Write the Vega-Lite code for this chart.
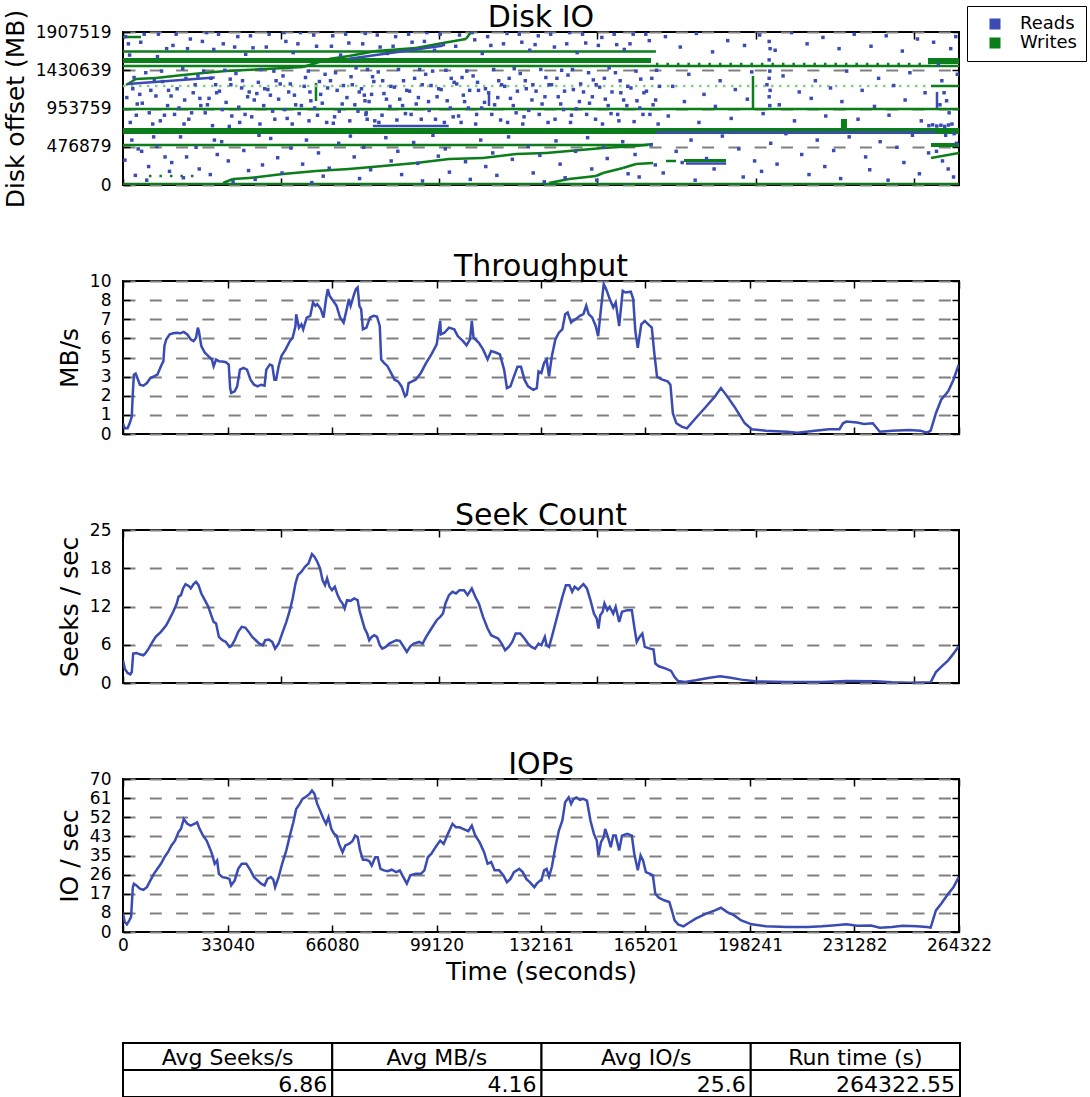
{
"$schema": "https://vega.github.io/schema/vega-lite/v6.json",
"background": "white",
"padding": {"left": 2, "top": 2, "right": 0, "bottom": 0},
"spacing": 96,
"bounds": "flush",
"config": {
  "font": "DejaVu Sans",
  "view": {"stroke": "black", "strokeWidth": 2},
  "axis": {"labelFont": "DejaVu Sans", "labelFontSize": 17, "labelColor": "black", "titleFont": "DejaVu Sans", "titleFontSize": 25, "titleFontWeight": "normal", "titleColor": "black", "domain": false, "tickColor": "black", "tickWidth": 1.5, "tickSize": -7, "grid": false, "labelOverlap": false, "labelFlush": false},
  "title": {"font": "DejaVu Sans", "fontSize": 30, "fontWeight": "normal", "color": "black", "offset": -10, "baseline": "alphabetic"}
},
"datasets": {
"reads": [
{"t":800,"mb":1850000},{"t":2100,"mb":1620000},{"t":3500,"mb":1340000},{"t":1200,"mb":1090000},{"t":4200,"mb":870000},{"t":2800,"mb":560000},{"t":600,"mb":310000},{"t":3900,"mb":120000},
{"t":5600,"mb":1780000},{"t":7200,"mb":1400000},{"t":8800,"mb":1180000},{"t":6100,"mb":1020000},{"t":9400,"mb":760000},{"t":5900,"mb":420000},{"t":8100,"mb":230000},{"t":7500,"mb":60000},
{"t":11200,"mb":1880000},{"t":13800,"mb":1700000},{"t":12500,"mb":1290000},{"t":10400,"mb":1110000},{"t":14100,"mb":990000},{"t":11800,"mb":800000},{"t":13300,"mb":350000},{"t":14700,"mb":170000},
{"t":15800,"mb":1740000},{"t":18900,"mb":1450000},{"t":17100,"mb":1200000},{"t":19500,"mb":1060000},{"t":16300,"mb":880000},{"t":18200,"mb":600000},{"t":15400,"mb":280000},{"t":19100,"mb":90000},
{"t":21300,"mb":1820000},{"t":23700,"mb":1360000},{"t":22200,"mb":1150000},{"t":24600,"mb":990000},{"t":20800,"mb":820000},{"t":23100,"mb":470000},{"t":24100,"mb":200000},
{"t":26400,"mb":1900000},{"t":28700,"mb":1690000},{"t":25500,"mb":1420000},{"t":29300,"mb":1250000},{"t":27200,"mb":1080000},{"t":26000,"mb":900000},{"t":28300,"mb":740000},{"t":29800,"mb":380000},{"t":27600,"mb":130000},
{"t":31700,"mb":1760000},{"t":33900,"mb":1320000},{"t":30500,"mb":1170000},{"t":32600,"mb":1030000},{"t":34400,"mb":860000},{"t":31200,"mb":540000},{"t":33300,"mb":300000},{"t":34800,"mb":40000},
{"t":36300,"mb":1850000},{"t":38800,"mb":1630000},{"t":35700,"mb":1390000},{"t":37500,"mb":1210000},{"t":39400,"mb":1100000},{"t":36900,"mb":780000},{"t":38200,"mb":430000},{"t":39700,"mb":180000},
{"t":41100,"mb":1710000},{"t":43600,"mb":1440000},{"t":42300,"mb":1140000},{"t":44500,"mb":990000},{"t":40700,"mb":850000},{"t":43000,"mb":620000},{"t":44100,"mb":250000},{"t":41800,"mb":70000},
{"t":46200,"mb":1880000},{"t":48400,"mb":1300000},{"t":45800,"mb":1190000},{"t":49200,"mb":1070000},{"t":47300,"mb":920000},{"t":46700,"mb":580000},{"t":48900,"mb":340000},
{"t":51500,"mb":1790000},{"t":53800,"mb":1650000},{"t":50600,"mb":1360000},{"t":52400,"mb":1160000},{"t":54600,"mb":1000000},{"t":51900,"mb":830000},{"t":53100,"mb":460000},{"t":50300,"mb":150000},
{"t":56100,"mb":1900000},{"t":58600,"mb":1420000},{"t":57300,"mb":1230000},{"t":59400,"mb":1050000},{"t":55700,"mb":890000},{"t":58000,"mb":560000},{"t":56800,"mb":260000},{"t":59700,"mb":30000},
{"t":61200,"mb":1730000},{"t":63900,"mb":1380000},{"t":62500,"mb":1130000},{"t":60600,"mb":960000},{"t":64400,"mb":780000},{"t":61800,"mb":400000},{"t":63300,"mb":110000},
{"t":66300,"mb":1860000},{"t":68800,"mb":1620000},{"t":65600,"mb":1300000},{"t":67700,"mb":1180000},{"t":69300,"mb":1010000},{"t":66900,"mb":850000},{"t":68200,"mb":520000},{"t":65200,"mb":210000},
{"t":71400,"mb":1770000},{"t":73700,"mb":1460000},{"t":72500,"mb":1250000},{"t":70800,"mb":1090000},{"t":74300,"mb":920000},{"t":71900,"mb":610000},{"t":73100,"mb":350000},{"t":74800,"mb":80000},
{"t":76600,"mb":1890000},{"t":78900,"mb":1350000},{"t":75400,"mb":1200000},{"t":77800,"mb":1040000},{"t":79600,"mb":800000},{"t":76100,"mb":470000},{"t":78300,"mb":190000},
{"t":81300,"mb":1720000},{"t":83600,"mb":1640000},{"t":80700,"mb":1410000},{"t":82500,"mb":1140000},{"t":84400,"mb":980000},{"t":81900,"mb":870000},{"t":83100,"mb":590000},{"t":84800,"mb":300000},
{"t":86200,"mb":1850000},{"t":88700,"mb":1300000},{"t":85800,"mb":1220000},{"t":87500,"mb":1070000},{"t":89300,"mb":890000},{"t":86900,"mb":420000},{"t":88100,"mb":130000},
{"t":91400,"mb":1780000},{"t":93800,"mb":1440000},{"t":90600,"mb":1170000},{"t":92700,"mb":1010000},{"t":94300,"mb":820000},{"t":91900,"mb":530000},{"t":93200,"mb":270000},{"t":94700,"mb":50000},
{"t":96100,"mb":1900000},{"t":98500,"mb":1680000},{"t":95700,"mb":1380000},{"t":97400,"mb":1240000},{"t":99300,"mb":1100000},{"t":96800,"mb":930000},{"t":98000,"mb":620000},{"t":99700,"mb":360000},
{"t":101300,"mb":1750000},{"t":103800,"mb":1330000},{"t":100600,"mb":1190000},{"t":102500,"mb":1050000},{"t":104400,"mb":850000},{"t":101900,"mb":450000},{"t":103200,"mb":160000},
{"t":106400,"mb":1870000},{"t":108700,"mb":1420000},{"t":105500,"mb":1260000},{"t":107600,"mb":1120000},{"t":109200,"mb":960000},{"t":106900,"mb":780000},{"t":108300,"mb":290000},{"t":109800,"mb":70000},
{"t":111200,"mb":1810000},{"t":113600,"mb":1640000},{"t":110700,"mb":1360000},{"t":112400,"mb":1180000},{"t":114300,"mb":1030000},{"t":111800,"mb":880000},{"t":113100,"mb":560000},{"t":114700,"mb":230000},
{"t":116300,"mb":1740000},{"t":118800,"mb":1300000},{"t":115600,"mb":1150000},{"t":117500,"mb":1000000},{"t":119400,"mb":810000},{"t":116900,"mb":400000},{"t":118200,"mb":120000},
{"t":121400,"mb":1890000},{"t":123700,"mb":1450000},{"t":120700,"mb":1230000},{"t":122500,"mb":1080000},{"t":124300,"mb":900000},{"t":121900,"mb":600000},{"t":123100,"mb":320000},
{"t":126100,"mb":1780000},{"t":128600,"mb":1680000},{"t":125600,"mb":1390000},{"t":127500,"mb":1200000},{"t":129300,"mb":1060000},{"t":126800,"mb":850000},{"t":128100,"mb":480000},{"t":129700,"mb":150000},
{"t":131300,"mb":1860000},{"t":133700,"mb":1340000},{"t":130600,"mb":1170000},{"t":132500,"mb":1010000},{"t":134400,"mb":780000},{"t":131800,"mb":370000},{"t":133200,"mb":40000},
{"t":136400,"mb":1720000},{"t":138700,"mb":1430000},{"t":135500,"mb":1250000},{"t":137600,"mb":1100000},{"t":139300,"mb":940000},{"t":136900,"mb":550000},{"t":138200,"mb":260000},{"t":139800,"mb":90000},
{"t":141200,"mb":1900000},{"t":143600,"mb":1650000},{"t":140700,"mb":1370000},{"t":142400,"mb":1190000},{"t":144300,"mb":1040000},{"t":141800,"mb":870000},{"t":143100,"mb":420000},
{"t":146300,"mb":1770000},{"t":148700,"mb":1310000},{"t":145600,"mb":1160000},{"t":147500,"mb":1020000},{"t":149400,"mb":820000},{"t":146900,"mb":590000},{"t":148200,"mb":200000},{"t":149800,"mb":60000},
{"t":151400,"mb":1840000},{"t":153700,"mb":1460000},{"t":150700,"mb":1220000},{"t":152500,"mb":1070000},{"t":154300,"mb":890000},{"t":151900,"mb":470000},{"t":153100,"mb":330000},
{"t":156100,"mb":1750000},{"t":158500,"mb":1690000},{"t":155700,"mb":1400000},{"t":157400,"mb":1150000},{"t":159300,"mb":990000},{"t":156800,"mb":800000},{"t":158000,"mb":540000},{"t":159700,"mb":140000},
{"t":161300,"mb":1880000},{"t":163700,"mb":1320000},{"t":160600,"mb":1210000},{"t":162500,"mb":1050000},{"t":164400,"mb":880000},{"t":161900,"mb":380000},{"t":163200,"mb":100000},
{"t":166400,"mb":1800000},{"t":168700,"mb":1430000},{"t":165500,"mb":1170000},{"t":167600,"mb":1000000},{"t":169200,"mb":760000},{"t":166900,"mb":500000},{"t":168300,"mb":250000},
{"t":1700,"mb":1760000},{"t":3100,"mb":1200000},{"t":4500,"mb":1010000},{"t":2300,"mb":780000},{"t":4800,"mb":450000},
{"t":6700,"mb":1880000},{"t":9900,"mb":1300000},{"t":5300,"mb":1130000},{"t":8300,"mb":900000},{"t":9700,"mb":600000},
{"t":10900,"mb":1600000},{"t":12200,"mb":1420000},{"t":14400,"mb":1180000},{"t":13100,"mb":870000},{"t":10700,"mb":480000},
{"t":16800,"mb":1880000},{"t":19900,"mb":1330000},{"t":15200,"mb":1110000},{"t":17700,"mb":960000},{"t":19300,"mb":760000},
{"t":20400,"mb":1700000},{"t":22800,"mb":1250000},{"t":24300,"mb":1080000},{"t":21700,"mb":900000},{"t":20100,"mb":350000},
{"t":25100,"mb":1790000},{"t":27800,"mb":1330000},{"t":29600,"mb":1150000},{"t":26700,"mb":1000000},{"t":28900,"mb":560000},
{"t":30200,"mb":1880000},{"t":32200,"mb":1430000},{"t":34100,"mb":1250000},{"t":31400,"mb":940000},{"t":33600,"mb":730000},
{"t":35300,"mb":1720000},{"t":37800,"mb":1300000},{"t":39900,"mb":1160000},{"t":36600,"mb":970000},{"t":38600,"mb":880000},
{"t":40300,"mb":1860000},{"t":42800,"mb":1280000},{"t":44800,"mb":1200000},{"t":41500,"mb":1060000},{"t":43300,"mb":760000},
{"t":45300,"mb":1720000},{"t":47700,"mb":1420000},{"t":49700,"mb":1260000},{"t":46600,"mb":1120000},{"t":48000,"mb":820000},
{"t":50900,"mb":1900000},{"t":52900,"mb":1260000},{"t":54200,"mb":1120000},{"t":51100,"mb":940000},{"t":53500,"mb":760000},
{"t":55300,"mb":1760000},{"t":57700,"mb":1340000},{"t":59100,"mb":1160000},{"t":56400,"mb":990000},{"t":58800,"mb":800000},
{"t":60300,"mb":1870000},{"t":62100,"mb":1290000},{"t":64700,"mb":1210000},{"t":63000,"mb":1020000},{"t":61500,"mb":870000},
{"t":65900,"mb":1730000},{"t":67200,"mb":1400000},{"t":69700,"mb":1240000},{"t":68400,"mb":920000},{"t":66500,"mb":770000},
{"t":70400,"mb":1880000},{"t":72100,"mb":1350000},{"t":74700,"mb":1160000},{"t":73300,"mb":1000000},{"t":71700,"mb":800000},
{"t":75800,"mb":1760000},{"t":77300,"mb":1440000},{"t":79300,"mb":1290000},{"t":78600,"mb":1130000},{"t":76900,"mb":900000},
{"t":80400,"mb":1870000},{"t":82100,"mb":1300000},{"t":84700,"mb":1230000},{"t":83300,"mb":1070000},{"t":80900,"mb":780000},
{"t":85400,"mb":1730000},{"t":87100,"mb":1440000},{"t":89700,"mb":1180000},{"t":88400,"mb":990000},{"t":86600,"mb":810000},
{"t":90300,"mb":1880000},{"t":92200,"mb":1330000},{"t":94600,"mb":1250000},{"t":93400,"mb":1090000},{"t":91100,"mb":880000},
{"t":95300,"mb":1790000},{"t":97900,"mb":1420000},{"t":99800,"mb":1200000},{"t":96600,"mb":1040000},{"t":98800,"mb":820000},
{"t":100300,"mb":1880000},{"t":102100,"mb":1430000},{"t":104700,"mb":1280000},{"t":103500,"mb":960000},{"t":101600,"mb":780000},
{"t":105200,"mb":1730000},{"t":107200,"mb":1340000},{"t":109600,"mb":1180000},{"t":108000,"mb":1040000},{"t":106100,"mb":860000},
{"t":110400,"mb":1900000},{"t":112100,"mb":1280000},{"t":114600,"mb":1200000},{"t":113400,"mb":960000},{"t":111500,"mb":760000},
{"t":115300,"mb":1850000},{"t":117200,"mb":1440000},{"t":119700,"mb":1250000},{"t":118500,"mb":1090000},{"t":116600,"mb":880000},
{"t":120300,"mb":1760000},{"t":122100,"mb":1330000},{"t":124700,"mb":1170000},{"t":123400,"mb":990000},{"t":121600,"mb":780000},
{"t":125300,"mb":1880000},{"t":127200,"mb":1300000},{"t":129600,"mb":1250000},{"t":128300,"mb":930000},{"t":126400,"mb":760000},
{"t":130300,"mb":1750000},{"t":132100,"mb":1440000},{"t":134700,"mb":1250000},{"t":133400,"mb":1100000},{"t":131600,"mb":880000},
{"t":135200,"mb":1880000},{"t":137200,"mb":1330000},{"t":139600,"mb":1170000},{"t":138400,"mb":1010000},{"t":136600,"mb":820000},
{"t":140300,"mb":1760000},{"t":142100,"mb":1440000},{"t":144700,"mb":1260000},{"t":143300,"mb":950000},{"t":141500,"mb":780000},
{"t":145300,"mb":1880000},{"t":147200,"mb":1400000},{"t":149600,"mb":1250000},{"t":148400,"mb":1100000},{"t":146600,"mb":880000},
{"t":150300,"mb":1740000},{"t":152200,"mb":1330000},{"t":154600,"mb":1160000},{"t":153400,"mb":990000},{"t":151600,"mb":760000},
{"t":155300,"mb":1880000},{"t":157200,"mb":1300000},{"t":159600,"mb":1230000},{"t":158300,"mb":1060000},{"t":156400,"mb":880000},
{"t":160300,"mb":1760000},{"t":162200,"mb":1420000},{"t":164700,"mb":1150000},{"t":163400,"mb":960000},{"t":161600,"mb":790000},
{"t":165300,"mb":1880000},{"t":167200,"mb":1330000},{"t":169600,"mb":1230000},{"t":168400,"mb":1060000},{"t":166600,"mb":880000},
{"t":171500,"mb":1850000},{"t":173800,"mb":1230000},{"t":172400,"mb":860000},{"t":174900,"mb":420000},{"t":170800,"mb":150000},
{"t":176200,"mb":1720000},{"t":178900,"mb":1380000},{"t":177500,"mb":1040000},{"t":179600,"mb":560000},{"t":176800,"mb":280000},
{"t":181300,"mb":1890000},{"t":183700,"mb":1130000},{"t":182100,"mb":780000},{"t":184500,"mb":330000},{"t":180900,"mb":60000},
{"t":186400,"mb":1660000},{"t":188800,"mb":1300000},{"t":187300,"mb":980000},{"t":189500,"mb":610000},{"t":186900,"mb":200000},
{"t":191200,"mb":1800000},{"t":193600,"mb":1190000},{"t":192300,"mb":830000},{"t":194700,"mb":450000},
{"t":196500,"mb":1740000},{"t":198800,"mb":1410000},{"t":197400,"mb":1070000},{"t":199700,"mb":300000},{"t":196100,"mb":100000},
{"t":201300,"mb":1870000},{"t":203600,"mb":1250000},{"t":202400,"mb":890000},{"t":204800,"mb":520000},{"t":201900,"mb":170000},
{"t":204300,"mb":1790000},{"t":204600,"mb":1700000},{"t":204300,"mb":1560000},{"t":204500,"mb":1420000},{"t":204300,"mb":1330000},{"t":204600,"mb":1180000},{"t":204300,"mb":1100000},{"t":204500,"mb":990000},
{"t":206200,"mb":1680000},{"t":208700,"mb":1360000},{"t":207500,"mb":1000000},{"t":209600,"mb":640000},{"t":206800,"mb":260000},
{"t":211400,"mb":1900000},{"t":213800,"mb":1160000},{"t":212300,"mb":800000},{"t":214600,"mb":380000},
{"t":216300,"mb":1760000},{"t":218900,"mb":1300000},{"t":217600,"mb":1080000},{"t":219500,"mb":560000},{"t":216900,"mb":130000},
{"t":221300,"mb":1840000},{"t":223700,"mb":1210000},{"t":222200,"mb":860000},{"t":224700,"mb":430000},{"t":221900,"mb":230000},
{"t":226400,"mb":1700000},{"t":228800,"mb":1420000},{"t":227300,"mb":1040000},{"t":229600,"mb":600000},{"t":226900,"mb":80000},
{"t":231200,"mb":1880000},{"t":233700,"mb":1180000},{"t":232400,"mb":820000},{"t":234800,"mb":350000},
{"t":236500,"mb":1730000},{"t":238900,"mb":1330000},{"t":237600,"mb":980000},{"t":239400,"mb":540000},{"t":236100,"mb":190000},
{"t":241300,"mb":1860000},{"t":243700,"mb":1240000},{"t":242200,"mb":870000},{"t":244700,"mb":470000},{"t":241900,"mb":60000},
{"t":246400,"mb":1670000},{"t":248800,"mb":1400000},{"t":247300,"mb":1060000},{"t":249600,"mb":620000},{"t":246900,"mb":280000},
{"t":251200,"mb":1820000},{"t":253600,"mb":1150000},{"t":252400,"mb":800000},{"t":254700,"mb":400000},{"t":251800,"mb":140000},
{"t":256300,"mb":1780000},{"t":257800,"mb":1500000},{"t":258900,"mb":1300000},{"t":259600,"mb":1150000},{"t":260400,"mb":1050000},{"t":261200,"mb":900000},{"t":262100,"mb":760000},{"t":262800,"mb":640000},{"t":263500,"mb":520000},{"t":257200,"mb":420000},{"t":259100,"mb":300000},{"t":260900,"mb":200000},{"t":262600,"mb":100000},{"t":261700,"mb":1700000},{"t":263300,"mb":1850000},{"t":258300,"mb":1000000},{"t":260100,"mb":620000},{"t":263800,"mb":1380000},
{"t":254800,"mb":740000},{"t":256000,"mb":750000},{"t":257300,"mb":735000},{"t":258600,"mb":745000},{"t":259800,"mb":730000},{"t":261000,"mb":748000},
{"t":76500,"mb":1050000},{"t":76800,"mb":880000},{"t":77200,"mb":820000},{"t":76300,"mb":1120000}
],
"wlines": [
{"t0":0,"mb0":1664000,"t1":168500,"mb1":1664000},
{"t0":0,"mb0":1483600,"t1":264322,"mb1":1483600},
{"t0":0,"mb0":947500,"t1":264322,"mb1":947500},
{"t0":0,"mb0":498700,"t1":166000,"mb1":498700},
{"t0":0,"mb0":12000,"t1":264322,"mb1":12000},
{"t0":0,"mb0":1845000,"t1":5700,"mb1":1845000},
{"t0":949,"mb0":1246700,"t1":4110,"mb1":1321500},
{"t0":4110,"mb0":1321500,"t1":10434,"mb1":1334000},
{"t0":10434,"mb0":1334000,"t1":18970,"mb1":1371400},
{"t0":18970,"mb0":1371400,"t1":25294,"mb1":1396300},
{"t0":25294,"mb0":1396300,"t1":32566,"mb1":1421200},
{"t0":32566,"mb0":1421200,"t1":45212,"mb1":1446200},
{"t0":45212,"mb0":1446200,"t1":56911,"mb1":1471100},
{"t0":56911,"mb0":1471100,"t1":65131,"mb1":1570800},
{"t0":65131,"mb0":1570800,"t1":71454,"mb1":1608200},
{"t0":71454,"mb0":1608200,"t1":79991,"mb1":1670600},
{"t0":79991,"mb0":1670600,"t1":92638,"mb1":1708000},
{"t0":92638,"mb0":1708000,"t1":101174,"mb1":1770300},
{"t0":101174,"mb0":1770300,"t1":108446,"mb1":1820200},
{"t0":108446,"mb0":1820200,"t1":110027,"mb1":1907500},
{"t0":31617,"mb0":24900,"t1":34779,"mb1":74800},
{"t0":34779,"mb0":74800,"t1":39837,"mb1":87300},
{"t0":39837,"mb0":87300,"t1":50587,"mb1":137100},
{"t0":50587,"mb0":137100,"t1":61021,"mb1":174500},
{"t0":61021,"mb0":174500,"t1":71454,"mb1":199500},
{"t0":71454,"mb0":199500,"t1":82204,"mb1":236900},
{"t0":82204,"mb0":236900,"t1":92638,"mb1":274300},
{"t0":92638,"mb0":274300,"t1":103071,"mb1":324100},
{"t0":103071,"mb0":324100,"t1":113821,"mb1":336600},
{"t0":113821,"mb0":336600,"t1":124255,"mb1":386500},
{"t0":124255,"mb0":386500,"t1":133740,"mb1":398900},
{"t0":133740,"mb0":398900,"t1":141012,"mb1":423900},
{"t0":141012,"mb0":423900,"t1":151762,"mb1":461300},
{"t0":151762,"mb0":461300,"t1":162195,"mb1":486200},
{"t0":162195,"mb0":486200,"t1":167570,"mb1":511100},
{"t0":134689,"mb0":24900,"t1":141012,"mb1":74800},
{"t0":141012,"mb0":74800,"t1":149548,"mb1":112200},
{"t0":149548,"mb0":112200,"t1":151762,"mb1":149600},
{"t0":151762,"mb0":149600,"t1":158085,"mb1":211900},
{"t0":158085,"mb0":211900,"t1":162195,"mb1":261800},
{"t0":162195,"mb0":261800,"t1":167570,"mb1":274300},
{"t0":255465,"mb0":336600,"t1":264322,"mb1":398900},
{"t0":255465,"mb0":1234300,"t1":264322,"mb1":1234300},
{"t0":199187,"mb0":947500,"t1":199187,"mb1":1358900},
{"t0":61021,"mb0":1047200,"t1":61021,"mb1":1271600},
{"t0":171680,"mb0":299200,"t1":174840,"mb1":299200}
],
"wbands": [
{"t0":0,"t1":166940,"lo":1521000,"hi":1583300},
{"t0":0,"t1":264322,"lo":635800,"hi":710600},
{"t0":177371,"t1":190650,"lo":286700,"hi":324100},
{"t0":254500,"t1":264322,"lo":1508500,"hi":1583300},
{"t0":255465,"t1":264322,"lo":473700,"hi":523600},
{"t0":227000,"t1":228900,"lo":673200,"hi":822800}
],
"wdots": [
{"t0":0,"t1":255000,"mb":1234300,"shade":"light"},
{"t0":168500,"t1":255000,"mb":1508000,"shade":"dark"},
{"t0":8200,"t1":24000,"mb":112200,"shade":"dark"}
],
"rlines": [
{"t0":1500,"mb0":1260000,"t1":29000,"mb1":1340000},
{"t0":71500,"mb0":1575000,"t1":101000,"mb1":1735000},
{"t0":79000,"mb0":735500,"t1":103000,"mb1":735500},
{"t0":168500,"mb0":654000,"t1":257000,"mb1":654000},
{"t0":178000,"mb0":268000,"t1":190700,"mb1":268000},
{"t0":115718,"mb0":985000,"t1":115718,"mb1":1147000},
{"t0":257362,"mb0":960000,"t1":257362,"mb1":1160000}
],
"tp": [
{"t":0,"v":0.70},{"t":555,"v":0.37},{"t":1444,"v":0.37},{"t":2110,"v":0.70},{"t":2777,"v":1.14},{"t":3110,"v":2.68},{"t":3443,"v":3.88},{"t":3998,"v":3.95},{"t":4553,"v":3.66},{"t":5331,"v":3.22},{"t":6441,"v":3.16},{"t":7552,"v":3.33},{"t":8663,"v":3.66},{"t":9773,"v":3.77},{"t":10884,"v":3.88},{"t":11994,"v":4.43},{"t":12772,"v":4.76},{"t":13105,"v":5.75},{"t":13660,"v":6.18},{"t":14771,"v":6.51},{"t":15882,"v":6.58},{"t":16992,"v":6.62},{"t":18103,"v":6.58},{"t":19213,"v":6.67},{"t":20324,"v":6.51},{"t":21435,"v":6.18},{"t":22323,"v":6.07},{"t":23100,"v":6.29},{"t":23656,"v":6.95},{"t":23989,"v":6.73},{"t":24766,"v":5.75},{"t":25877,"v":5.31},{"t":26988,"v":5.09},{"t":28098,"v":4.87},{"t":28654,"v":4.43},{"t":29431,"v":4.87},{"t":30319,"v":4.76},{"t":31430,"v":4.74},{"t":32541,"v":4.69},{"t":33429,"v":4.54},{"t":33873,"v":3.00},{"t":34206,"v":2.68},{"t":35317,"v":2.79},{"t":36095,"v":3.11},{"t":36983,"v":4.21},{"t":38094,"v":4.32},{"t":39204,"v":4.21},{"t":40315,"v":3.55},{"t":41425,"v":3.22},{"t":42536,"v":3.11},{"t":43647,"v":3.22},{"t":44757,"v":3.16},{"t":45313,"v":4.21},{"t":46423,"v":4.54},{"t":47201,"v":4.47},{"t":47867,"v":3.55},{"t":48422,"v":3.55},{"t":49200,"v":4.43},{"t":50088,"v":5.09},{"t":51421,"v":5.53},{"t":52754,"v":6.07},{"t":53642,"v":6.29},{"t":54530,"v":7.06},{"t":54753,"v":7.83},{"t":55641,"v":6.95},{"t":56418,"v":7.17},{"t":56974,"v":6.84},{"t":58084,"v":7.61},{"t":59195,"v":7.72},{"t":60083,"v":8.60},{"t":60861,"v":8.38},{"t":61416,"v":8.49},{"t":62527,"v":8.16},{"t":63415,"v":7.61},{"t":64193,"v":8.82},{"t":64748,"v":9.47},{"t":65303,"v":9.04},{"t":66414,"v":8.71},{"t":67524,"v":8.38},{"t":68635,"v":7.61},{"t":69746,"v":7.28},{"t":70856,"v":8.27},{"t":71412,"v":8.82},{"t":71967,"v":8.38},{"t":73077,"v":9.14},{"t":73633,"v":9.47},{"t":74188,"v":9.58},{"t":74743,"v":8.38},{"t":75299,"v":8.16},{"t":75854,"v":6.84},{"t":76965,"v":6.95},{"t":78075,"v":7.61},{"t":79186,"v":7.72},{"t":80296,"v":7.68},{"t":81185,"v":7.06},{"t":81629,"v":4.87},{"t":82518,"v":4.65},{"t":83628,"v":4.43},{"t":84739,"v":3.99},{"t":85849,"v":3.55},{"t":86960,"v":3.44},{"t":88071,"v":3.11},{"t":89181,"v":2.46},{"t":89736,"v":2.57},{"t":90292,"v":3.33},{"t":91402,"v":3.44},{"t":92513,"v":3.55},{"t":94179,"v":3.99},{"t":95845,"v":4.65},{"t":97511,"v":5.20},{"t":99177,"v":5.86},{"t":100287,"v":7.39},{"t":100510,"v":6.51},{"t":101620,"v":6.62},{"t":103064,"v":6.95},{"t":104730,"v":6.84},{"t":105840,"v":6.40},{"t":107506,"v":6.07},{"t":108617,"v":5.79},{"t":109727,"v":6.18},{"t":110283,"v":7.39},{"t":110838,"v":6.29},{"t":112504,"v":5.96},{"t":113837,"v":5.53},{"t":115281,"v":4.87},{"t":116391,"v":5.42},{"t":118057,"v":5.31},{"t":119167,"v":5.20},{"t":120500,"v":4.21},{"t":121389,"v":3.00},{"t":122499,"v":3.11},{"t":123610,"v":3.77},{"t":124720,"v":4.39},{"t":125831,"v":4.39},{"t":126942,"v":3.55},{"t":128052,"v":3.11},{"t":129718,"v":2.89},{"t":130829,"v":3.00},{"t":131384,"v":4.10},
{"t":132264,"v":3.99},{"t":133151,"v":4.65},{"t":133928,"v":4.87},{"t":134704,"v":3.77},{"t":135591,"v":5.09},{"t":136700,"v":6.18},{"t":137809,"v":6.62},{"t":138918,"v":6.84},{"t":139805,"v":7.83},{"t":140582,"v":7.94},{"t":141691,"v":7.28},{"t":142245,"v":7.39},{"t":143354,"v":7.54},{"t":144463,"v":7.72},{"t":145572,"v":7.83},{"t":146459,"v":8.38},{"t":147236,"v":7.83},{"t":148345,"v":7.61},{"t":149454,"v":7.06},{"t":150230,"v":6.40},{"t":151117,"v":8.16},{"t":152004,"v":9.80},{"t":152781,"v":9.47},{"t":153890,"v":8.82},{"t":154999,"v":8.27},{"t":155775,"v":8.60},{"t":156884,"v":7.06},{"t":157993,"v":9.36},{"t":158880,"v":9.25},{"t":160544,"v":9.30},{"t":161320,"v":8.82},{"t":161985,"v":6.73},{"t":162762,"v":5.64},{"t":163871,"v":7.17},{"t":164980,"v":7.39},{"t":166089,"v":7.17},{"t":167198,"v":6.95},{"t":167974,"v":5.31},{"t":168861,"v":3.73},{"t":170525,"v":3.55},{"t":172188,"v":3.44},{"t":173075,"v":3.22},{"t":173852,"v":1.36},{"t":174961,"v":0.70},{"t":176624,"v":0.48},{"t":178288,"v":0.37},{"t":181060,"v":1.03},{"t":184387,"v":1.80},{"t":187160,"v":2.46},{"t":189045,"v":3.00},{"t":191041,"v":2.46},{"t":193259,"v":1.80},{"t":194923,"v":1.25},{"t":196586,"v":0.70},{"t":198804,"v":0.31},{"t":203240,"v":0.22},{"t":209894,"v":0.15},{"t":213221,"v":0.09},{"t":218766,"v":0.22},{"t":223202,"v":0.31},{"t":226529,"v":0.31},{"t":227638,"v":0.70},{"t":228747,"v":0.81},{"t":232074,"v":0.75},{"t":234292,"v":0.66},{"t":237065,"v":0.70},{"t":239283,"v":0.15},{"t":243164,"v":0.22},{"t":248709,"v":0.26},{"t":252036,"v":0.22},{"t":254254,"v":0.09},{"t":255363,"v":0.22},{"t":257027,"v":1.36},{"t":258690,"v":2.24},{"t":260908,"v":2.79},{"t":262572,"v":3.55},{"t":264235,"v":4.54}
],
"sk": [
{"t":0,"v":3.71},{"t":555,"v":2.35},{"t":1444,"v":1.64},{"t":2332,"v":1.42},{"t":2777,"v":1.80},{"t":3221,"v":4.80},{"t":4220,"v":4.91},{"t":5331,"v":4.69},{"t":6441,"v":4.53},{"t":6996,"v":4.80},{"t":8108,"v":5.62},{"t":8996,"v":6.44},{"t":10329,"v":7.53},{"t":11994,"v":8.35},{"t":13660,"v":9.44},{"t":14771,"v":10.53},{"t":15882,"v":11.63},{"t":16992,"v":12.99},{"t":17547,"v":14.08},{"t":18325,"v":14.36},{"t":18991,"v":15.45},{"t":19768,"v":16.16},{"t":20879,"v":15.83},{"t":21435,"v":15.45},{"t":22323,"v":16.16},{"t":23100,"v":16.54},{"t":23878,"v":15.99},{"t":24766,"v":14.63},{"t":25877,"v":13.54},{"t":26988,"v":12.45},{"t":27876,"v":11.08},{"t":28654,"v":9.99},{"t":29431,"v":9.72},{"t":30319,"v":7.53},{"t":31430,"v":6.99},{"t":32541,"v":6.71},{"t":33651,"v":5.90},{"t":34206,"v":6.00},{"t":35317,"v":6.99},{"t":36428,"v":8.35},{"t":37538,"v":9.17},{"t":38649,"v":9.06},{"t":39760,"v":8.35},{"t":40870,"v":7.53},{"t":41981,"v":6.99},{"t":43092,"v":6.44},{"t":44202,"v":6.17},{"t":44980,"v":6.99},{"t":46090,"v":7.10},{"t":47201,"v":6.71},{"t":48089,"v":5.62},{"t":49200,"v":6.44},{"t":50310,"v":8.08},{"t":51643,"v":9.99},{"t":52754,"v":11.90},{"t":53642,"v":13.81},{"t":54530,"v":16.27},{"t":55307,"v":17.63},{"t":56418,"v":18.18},{"t":57529,"v":19.00},{"t":58639,"v":19.54},{"t":59750,"v":21.07},{"t":60528,"v":20.63},{"t":61416,"v":19.81},{"t":62305,"v":18.72},{"t":63082,"v":16.81},{"t":63860,"v":15.99},{"t":64526,"v":17.09},{"t":65303,"v":15.72},{"t":66080,"v":15.17},{"t":66969,"v":15.72},{"t":67858,"v":14.36},{"t":68635,"v":13.54},{"t":69413,"v":12.99},{"t":70079,"v":12.17},{"t":70856,"v":13.54},{"t":71967,"v":13.43},{"t":73077,"v":13.81},{"t":74188,"v":13.54},{"t":74743,"v":11.90},{"t":75632,"v":10.26},{"t":76410,"v":8.90},{"t":77187,"v":8.08},{"t":77854,"v":6.99},{"t":78631,"v":7.53},{"t":79409,"v":7.81},{"t":80296,"v":7.53},{"t":81185,"v":6.17},{"t":81962,"v":5.62},{"t":83073,"v":5.90},{"t":84183,"v":6.44},{"t":85294,"v":6.71},{"t":86405,"v":6.99},{"t":87515,"v":6.88},{"t":88626,"v":6.00},{"t":89736,"v":5.08},{"t":90847,"v":6.00},{"t":91958,"v":6.44},{"t":93624,"v":6.71},{"t":94734,"v":6.44},{"t":95845,"v":7.53},{"t":97511,"v":8.90},{"t":99177,"v":10.26},{"t":100287,"v":10.81},{"t":101176,"v":11.35},{"t":101953,"v":12.99},{"t":103064,"v":14.36},{"t":104175,"v":14.90},{"t":105285,"v":14.63},{"t":106396,"v":15.17},{"t":107840,"v":15.17},{"t":108950,"v":14.36},{"t":110283,"v":15.45},{"t":111393,"v":14.08},{"t":112504,"v":12.99},{"t":113837,"v":10.81},{"t":115281,"v":8.90},{"t":116391,"v":7.81},{"t":117502,"v":7.53},{"t":118613,"v":7.26},{"t":119723,"v":6.44},{"t":120834,"v":5.35},{"t":121944,"v":5.90},{"t":123055,"v":6.71},{"t":124165,"v":8.08},{"t":125609,"v":8.08},{"t":126942,"v":7.26},{"t":128052,"v":6.44},{"t":129163,"v":5.90},{"t":130273,"v":5.62},{"t":131384,"v":6.44},
{"t":132264,"v":6.17},{"t":133373,"v":7.53},{"t":133928,"v":6.17},{"t":134704,"v":5.90},{"t":135591,"v":7.53},{"t":136700,"v":9.72},{"t":137809,"v":11.90},{"t":138918,"v":14.08},{"t":140027,"v":15.99},{"t":141136,"v":15.99},{"t":142023,"v":14.90},{"t":142800,"v":15.72},{"t":143909,"v":15.28},{"t":144690,"v":15.72},{"t":145572,"v":16.16},{"t":146681,"v":15.45},{"t":147790,"v":13.54},{"t":148899,"v":11.35},{"t":149786,"v":10.53},{"t":150341,"v":8.90},{"t":150895,"v":11.08},{"t":151670,"v":11.63},{"t":152226,"v":12.99},{"t":153114,"v":11.90},{"t":153890,"v":12.45},{"t":154999,"v":11.35},{"t":155775,"v":12.45},{"t":156884,"v":9.99},{"t":157771,"v":11.63},{"t":159435,"v":11.90},{"t":160876,"v":11.90},{"t":161652,"v":9.17},{"t":162428,"v":6.71},{"t":163316,"v":7.53},{"t":164203,"v":8.08},{"t":164980,"v":5.90},{"t":166643,"v":5.62},{"t":167752,"v":5.46},{"t":168306,"v":3.17},{"t":169415,"v":2.73},{"t":171633,"v":2.35},{"t":173297,"v":1.97},{"t":174406,"v":0.98},{"t":175515,"v":0.33},{"t":177733,"v":0.16},{"t":181060,"v":0.44},{"t":185496,"v":0.87},{"t":188823,"v":1.09},{"t":192150,"v":0.87},{"t":195477,"v":0.55},{"t":199913,"v":0.27},{"t":209894,"v":0.16},{"t":220984,"v":0.16},{"t":228747,"v":0.33},{"t":237619,"v":0.27},{"t":243164,"v":0.11},{"t":248709,"v":0.05},{"t":255363,"v":0.11},{"t":257027,"v":1.80},{"t":258690,"v":2.62},{"t":260908,"v":3.71},{"t":262572,"v":4.80},{"t":264235,"v":6.00}
],
"io": [
{"t":0,"v":8.37},{"t":555,"v":4.57},{"t":1222,"v":3.50},{"t":2000,"v":5.33},{"t":2555,"v":6.85},{"t":3110,"v":20.5},{"t":3443,"v":22.1},{"t":4220,"v":21.3},{"t":5331,"v":19.8},{"t":6441,"v":19.3},{"t":7552,"v":20.5},{"t":8663,"v":23.6},{"t":9773,"v":26.6},{"t":10884,"v":28.9},{"t":11994,"v":31.2},{"t":13105,"v":34.2},{"t":14216,"v":36.5},{"t":15326,"v":39.6},{"t":16437,"v":41.8},{"t":17547,"v":45.7},{"t":18325,"v":47.2},{"t":19213,"v":51.7},{"t":20324,"v":49.5},{"t":21435,"v":48.7},{"t":22545,"v":49.5},{"t":23434,"v":50.2},{"t":24211,"v":47.2},{"t":25322,"v":44.1},{"t":26433,"v":41.8},{"t":27543,"v":38.0},{"t":28098,"v":35.8},{"t":28987,"v":31.2},{"t":29764,"v":32.7},{"t":30319,"v":26.6},{"t":31430,"v":25.1},{"t":32541,"v":24.8},{"t":33651,"v":24.3},{"t":34206,"v":21.3},{"t":35317,"v":23.6},{"t":36428,"v":28.9},{"t":37538,"v":31.2},{"t":38982,"v":31.2},{"t":40315,"v":28.2},{"t":41425,"v":25.1},{"t":42536,"v":23.6},{"t":43647,"v":22.1},{"t":44757,"v":21.3},{"t":45646,"v":24.3},{"t":46756,"v":25.1},{"t":47534,"v":23.9},{"t":48089,"v":20.5},{"t":49200,"v":25.1},{"t":50310,"v":31.2},{"t":51643,"v":37.3},{"t":52754,"v":44.1},{"t":53864,"v":50.2},{"t":54753,"v":56.3},{"t":55863,"v":58.6},{"t":56752,"v":60.9},{"t":57862,"v":61.9},{"t":58973,"v":63.2},{"t":59750,"v":64.7},{"t":60528,"v":63.2},{"t":61416,"v":58.6},{"t":62527,"v":54.8},{"t":63415,"v":51.7},{"t":64193,"v":49.5},{"t":64970,"v":52.5},{"t":65859,"v":47.2},{"t":66747,"v":44.9},{"t":67524,"v":44.1},{"t":68302,"v":40.3},{"t":69413,"v":36.5},{"t":70301,"v":39.6},{"t":71412,"v":40.3},{"t":72522,"v":41.5},{"t":73411,"v":44.1},{"t":74188,"v":43.4},{"t":74966,"v":37.3},{"t":75854,"v":33.0},{"t":76965,"v":33.0},{"t":77854,"v":32.4},{"t":78631,"v":30.4},{"t":79742,"v":34.2},{"t":80519,"v":34.2},{"t":81407,"v":28.9},{"t":82518,"v":28.2},{"t":83628,"v":27.8},{"t":84961,"v":28.5},{"t":86405,"v":27.4},{"t":87515,"v":28.2},{"t":88626,"v":25.1},{"t":89736,"v":22.1},{"t":90847,"v":25.9},{"t":92513,"v":26.6},{"t":94179,"v":26.6},{"t":95290,"v":28.2},{"t":96400,"v":34.2},{"t":97511,"v":35.8},{"t":99177,"v":39.6},{"t":100287,"v":41.8},{"t":101398,"v":40.3},{"t":102731,"v":44.9},{"t":104175,"v":49.5},{"t":105285,"v":47.9},{"t":106396,"v":47.9},{"t":107506,"v":47.2},{"t":109172,"v":46.1},{"t":110283,"v":48.7},{"t":111393,"v":44.1},{"t":112726,"v":41.1},{"t":114170,"v":36.5},{"t":115281,"v":31.2},{"t":116391,"v":32.0},{"t":117502,"v":28.2},{"t":118946,"v":28.2},{"t":120279,"v":25.9},{"t":121389,"v":22.8},{"t":122499,"v":24.3},{"t":123610,"v":27.4},{"t":125276,"v":28.9},{"t":126387,"v":27.4},{"t":127497,"v":24.3},{"t":128608,"v":22.8},{"t":130051,"v":20.5},{"t":130829,"v":22.1},{"t":131939,"v":23.6},
{"t":132264,"v":23.6},{"t":133151,"v":28.2},{"t":133928,"v":28.9},{"t":134704,"v":25.4},{"t":135591,"v":29.7},{"t":136700,"v":38.8},{"t":137809,"v":46.4},{"t":138918,"v":51.0},{"t":139805,"v":59.4},{"t":140914,"v":61.6},{"t":141691,"v":58.6},{"t":142467,"v":60.9},{"t":143354,"v":61.6},{"t":144463,"v":60.4},{"t":145572,"v":60.9},{"t":146681,"v":60.1},{"t":147790,"v":51.0},{"t":148899,"v":44.9},{"t":149786,"v":41.8},{"t":150341,"v":35.0},{"t":151117,"v":41.1},{"t":152004,"v":43.4},{"t":152448,"v":47.2},{"t":153335,"v":43.4},{"t":154222,"v":38.8},{"t":154999,"v":44.1},{"t":155775,"v":44.1},{"t":156884,"v":37.3},{"t":157771,"v":44.1},{"t":159435,"v":44.9},{"t":160876,"v":44.1},{"t":161652,"v":35.8},{"t":162762,"v":28.2},{"t":163649,"v":35.0},{"t":164425,"v":32.7},{"t":165312,"v":27.4},{"t":166643,"v":26.6},{"t":167530,"v":25.9},{"t":168306,"v":17.5},{"t":169415,"v":15.7},{"t":171078,"v":14.5},{"t":172742,"v":13.7},{"t":173519,"v":9.9},{"t":174406,"v":5.3},{"t":175515,"v":3.5},{"t":177179,"v":2.6},{"t":178842,"v":4.1},{"t":181060,"v":6.1},{"t":184387,"v":8.4},{"t":187160,"v":9.9},{"t":189045,"v":11.1},{"t":191041,"v":9.1},{"t":193259,"v":7.6},{"t":195477,"v":5.3},{"t":198804,"v":3.5},{"t":203240,"v":2.6},{"t":209894,"v":2.3},{"t":216548,"v":2.3},{"t":220984,"v":2.6},{"t":224311,"v":3.0},{"t":228747,"v":3.5},{"t":232074,"v":2.9},{"t":236510,"v":3.0},{"t":239283,"v":2.0},{"t":243164,"v":2.3},{"t":246491,"v":2.9},{"t":250927,"v":2.6},{"t":254254,"v":2.3},{"t":255363,"v":2.0},{"t":257027,"v":9.9},{"t":258690,"v":12.9},{"t":260908,"v":17.5},{"t":262572,"v":20.5},{"t":264235,"v":25.1}
],
"table": [
{"c":0,"r0":0,"r1":1,"part":"head","label":"Avg Seeks/s"},
{"c":1,"r0":0,"r1":1,"part":"head","label":"Avg MB/s"},
{"c":2,"r0":0,"r1":1,"part":"head","label":"Avg IO/s"},
{"c":3,"r0":0,"r1":1,"part":"head","label":"Run time (s)"},
{"c":0,"r0":1,"r1":2,"part":"val","label":"6.86"},
{"c":1,"r0":1,"r1":2,"part":"val","label":"4.16"},
{"c":2,"r0":1,"r1":2,"part":"val","label":"25.6"},
{"c":3,"r0":1,"r1":2,"part":"val","label":"264322.55"}
]
},
"vconcat": [
{
 "width": 836, "height": 153,
 "title": {"text": "Disk IO", "offset": -24},
 "resolve": {"axis": {"x": "independent", "y": "independent"}},
 "layer": [
  {"data": {"name": "wbands"}, "mark": {"type": "rect", "clip": true},
   "encoding": {
    "x": {"field": "t0", "type": "quantitative", "scale": {"domain": [0, 264322.55], "nice": false, "zero": false}, "axis": null},
    "x2": {"field": "t1"},
    "y": {"field": "lo", "type": "quantitative", "scale": {"domain": [0, 1907519], "nice": false, "zero": false}, "axis": null},
    "y2": {"field": "hi"},
    "color": {"datum": "Writes", "type": "nominal", "scale": {"domain": ["Reads", "Writes"], "range": ["#3a4bb3", "#0b7d1b"]},
      "legend": {"orient": "none", "legendX": 844, "legendY": -26, "title": null, "symbolType": "square", "symbolSize": 121, "symbolStrokeWidth": 0, "labelFontSize": 18, "labelFont": "DejaVu Sans", "labelColor": "black", "padding": 9, "fillColor": "white", "strokeColor": "black", "rowPadding": 1, "symbolOffset": 10, "labelOffset": 16}}
   }},
  {"data": {"name": "wlines"}, "mark": {"type": "rule", "color": "#0b7d1b", "strokeWidth": 2.5, "clip": true},
   "encoding": {
    "x": {"field": "t0", "type": "quantitative", "scale": {"domain": [0, 264322.55], "nice": false, "zero": false}, "axis": null},
    "x2": {"field": "t1"},
    "y": {"field": "mb0", "type": "quantitative", "scale": {"domain": [0, 1907519], "nice": false, "zero": false}, "axis": null},
    "y2": {"field": "mb1"}
   }},
  {"data": {"name": "wdots"}, "transform": [{"filter": "datum.shade == 'light'"}],
   "mark": {"type": "rule", "color": "#86cc86", "strokeWidth": 2.5, "strokeDash": [2.5, 5.5], "clip": true},
   "encoding": {
    "x": {"field": "t0", "type": "quantitative", "scale": {"domain": [0, 264322.55], "nice": false, "zero": false}, "axis": null},
    "x2": {"field": "t1"},
    "y": {"field": "mb", "type": "quantitative", "scale": {"domain": [0, 1907519], "nice": false, "zero": false}, "axis": null}
   }},
  {"data": {"name": "wdots"}, "transform": [{"filter": "datum.shade == 'dark'"}],
   "mark": {"type": "rule", "color": "#0b7d1b", "strokeWidth": 2.5, "strokeDash": [2.5, 8], "clip": true},
   "encoding": {
    "x": {"field": "t0", "type": "quantitative", "scale": {"domain": [0, 264322.55], "nice": false, "zero": false}, "axis": null},
    "x2": {"field": "t1"},
    "y": {"field": "mb", "type": "quantitative", "scale": {"domain": [0, 1907519], "nice": false, "zero": false}, "axis": null}
   }},
  {"data": {"name": "reads"}, "mark": {"type": "square", "size": 12, "opacity": 1, "filled": true, "clip": true},
   "encoding": {
    "x": {"field": "t", "type": "quantitative", "scale": {"domain": [0, 264322.55], "nice": false, "zero": false},
      "axis": {"orient": "bottom", "values": [0, 50000, 100000, 150000, 200000, 250000], "labels": false, "title": null}},
    "y": {"field": "mb", "type": "quantitative", "scale": {"domain": [0, 1907519], "nice": false, "zero": false},
      "axis": {"orient": "left", "values": [0, 476879.75, 953759.5, 1430639.25, 1907519], "labelExpr": "floor(datum.value)", "title": "Disk offset (MB)", "grid": true, "gridDash": [12, 14.3], "gridColor": "#808080", "gridWidth": 2, "labelPadding": 19, "titlePadding": 7}},
    "color": {"datum": "Reads", "type": "nominal", "scale": {"domain": ["Reads", "Writes"], "range": ["#3a4bb3", "#0b7d1b"]},
      "legend": {"orient": "none", "legendX": 844, "legendY": -26, "title": null, "symbolType": "square", "symbolSize": 121, "symbolStrokeWidth": 0, "labelFontSize": 18, "labelFont": "DejaVu Sans", "labelColor": "black", "padding": 9, "fillColor": "white", "strokeColor": "black", "rowPadding": 1, "symbolOffset": 10, "labelOffset": 16}}
   }},
  {"data": {"name": "rlines"}, "mark": {"type": "rule", "color": "#3a4bb3", "strokeWidth": 2.5, "clip": true},
   "encoding": {
    "x": {"field": "t0", "type": "quantitative", "scale": {"domain": [0, 264322.55], "nice": false, "zero": false}, "axis": null},
    "x2": {"field": "t1"},
    "y": {"field": "mb0", "type": "quantitative", "scale": {"domain": [0, 1907519], "nice": false, "zero": false}, "axis": null},
    "y2": {"field": "mb1"}
   }},
  {"data": {"name": "reads"}, "mark": {"type": "square", "opacity": 0},
   "encoding": {
    "x": {"field": "t", "type": "quantitative", "scale": {"domain": [0, 264322.55], "nice": false, "zero": false},
      "axis": {"orient": "top", "values": [0, 50000, 100000, 150000, 200000, 250000], "labels": false, "title": null}},
    "y": {"field": "mb", "type": "quantitative", "scale": {"domain": [0, 1907519], "nice": false, "zero": false},
      "axis": {"orient": "right", "values": [0, 476879.75, 953759.5, 1430639.25, 1907519], "labels": false, "title": null}}
   }}
 ]
},
{
 "width": 836, "height": 153,
 "title": "Throughput",
 "data": {"name": "tp"},
 "resolve": {"axis": {"x": "independent", "y": "independent"}},
 "layer": [
  {"mark": {"type": "line", "color": "#3a4bb3", "strokeWidth": 2.5, "clip": true},
   "encoding": {
    "x": {"field": "t", "type": "quantitative", "scale": {"domain": [0, 264322.55], "nice": false, "zero": false},
      "axis": {"orient": "bottom", "values": [0, 33040.32, 66080.64, 99120.96, 132161.28, 165201.59, 198241.91, 231282.23, 264322.55], "labels": false, "title": null}},
    "y": {"field": "v", "type": "quantitative", "scale": {"domain": [0, 10], "nice": false, "zero": false},
      "axis": {"orient": "left", "values": [0, 1.25, 2.5, 3.75, 5, 6.25, 7.5, 8.75, 10], "labelExpr": "floor(datum.value)", "title": "MB/s", "grid": true, "gridDash": [12, 14.3], "gridColor": "#808080", "gridWidth": 2, "labelPadding": 19, "titlePadding": 7}}
   }},
  {"mark": {"type": "line", "opacity": 0},
   "encoding": {
    "x": {"field": "t", "type": "quantitative", "scale": {"domain": [0, 264322.55], "nice": false, "zero": false},
      "axis": {"orient": "top", "values": [0, 33040.32, 66080.64, 99120.96, 132161.28, 165201.59, 198241.91, 231282.23, 264322.55], "labels": false, "title": null}},
    "y": {"field": "v", "type": "quantitative", "scale": {"domain": [0, 10], "nice": false, "zero": false},
      "axis": {"orient": "right", "values": [0, 1.25, 2.5, 3.75, 5, 6.25, 7.5, 8.75, 10], "labels": false, "title": null}}
   }}
 ]
},
{
 "width": 836, "height": 153,
 "title": "Seek Count",
 "data": {"name": "sk"},
 "resolve": {"axis": {"x": "independent", "y": "independent"}},
 "layer": [
  {"mark": {"type": "line", "color": "#3a4bb3", "strokeWidth": 2.5, "clip": true},
   "encoding": {
    "x": {"field": "t", "type": "quantitative", "scale": {"domain": [0, 264322.55], "nice": false, "zero": false},
      "axis": {"orient": "bottom", "values": [0, 50000, 100000, 150000, 200000, 250000], "labels": false, "title": null}},
    "y": {"field": "v", "type": "quantitative", "scale": {"domain": [0, 25], "nice": false, "zero": false},
      "axis": {"orient": "left", "values": [0, 6.25, 12.5, 18.75, 25], "labelExpr": "floor(datum.value)", "title": "Seeks / sec", "grid": true, "gridDash": [12, 14.3], "gridColor": "#808080", "gridWidth": 2, "labelPadding": 19, "titlePadding": 7}}
   }},
  {"mark": {"type": "line", "opacity": 0},
   "encoding": {
    "x": {"field": "t", "type": "quantitative", "scale": {"domain": [0, 264322.55], "nice": false, "zero": false},
      "axis": {"orient": "top", "values": [0, 50000, 100000, 150000, 200000, 250000], "labels": false, "title": null}},
    "y": {"field": "v", "type": "quantitative", "scale": {"domain": [0, 25], "nice": false, "zero": false},
      "axis": {"orient": "right", "values": [0, 6.25, 12.5, 18.75, 25], "labels": false, "title": null}}
   }}
 ]
},
{
 "width": 836, "height": 153,
 "title": "IOPs",
 "data": {"name": "io"},
 "resolve": {"axis": {"x": "independent", "y": "independent"}},
 "layer": [
  {"mark": {"type": "line", "color": "#3a4bb3", "strokeWidth": 2.5, "clip": true},
   "encoding": {
    "x": {"field": "t", "type": "quantitative", "scale": {"domain": [0, 264322.55], "nice": false, "zero": false},
      "axis": {"orient": "bottom", "values": [0, 33040.32, 66080.64, 99120.96, 132161.28, 165201.59, 198241.91, 231282.23, 264322.55], "labelExpr": "floor(datum.value)", "title": "Time (seconds)", "labelPadding": 12, "titlePadding": 6}},
    "y": {"field": "v", "type": "quantitative", "scale": {"domain": [0, 70], "nice": false, "zero": false},
      "axis": {"orient": "left", "values": [0, 8.75, 17.5, 26.25, 35, 43.75, 52.5, 61.25, 70], "labelExpr": "floor(datum.value)", "title": "IO / sec", "grid": true, "gridDash": [12, 14.3], "gridColor": "#808080", "gridWidth": 2, "labelPadding": 19, "titlePadding": 7}}
   }},
  {"mark": {"type": "line", "opacity": 0},
   "encoding": {
    "x": {"field": "t", "type": "quantitative", "scale": {"domain": [0, 264322.55], "nice": false, "zero": false},
      "axis": {"orient": "top", "values": [0, 33040.32, 66080.64, 99120.96, 132161.28, 165201.59, 198241.91, 231282.23, 264322.55], "labels": false, "title": null}},
    "y": {"field": "v", "type": "quantitative", "scale": {"domain": [0, 70], "nice": false, "zero": false},
      "axis": {"orient": "right", "values": [0, 8.75, 17.5, 26.25, 35, 43.75, 52.5, 61.25, 70], "labels": false, "title": null}}
   }}
 ]
},
{
 "width": 837, "height": 69,
 "view": {"stroke": null},
 "data": {"name": "table"},
 "layer": [
  {"mark": {"type": "rect", "fill": "white", "stroke": "black", "strokeWidth": 2},
   "encoding": {
    "x": {"field": "c", "type": "ordinal", "scale": {"paddingInner": 0, "paddingOuter": 0}, "axis": null},
    "y": {"field": "r0", "type": "quantitative", "scale": {"domain": [-0.5556, 2], "reverse": true, "nice": false, "zero": false}, "axis": null},
    "y2": {"field": "r1"}
   }},
  {"transform": [{"filter": "datum.part == 'head'"}],
   "mark": {"type": "text", "font": "DejaVu Sans", "fontSize": 22, "color": "black", "baseline": "alphabetic", "align": "center", "dy": -5},
   "encoding": {
    "x": {"field": "c", "type": "ordinal", "bandPosition": 0.5, "axis": null},
    "y": {"field": "r1", "type": "quantitative", "axis": null},
    "text": {"field": "label"}
   }},
  {"transform": [{"filter": "datum.part == 'val'"}],
   "mark": {"type": "text", "font": "DejaVu Sans", "fontSize": 22, "color": "black", "baseline": "alphabetic", "align": "right", "dx": -5, "dy": -5},
   "encoding": {
    "x": {"field": "c", "type": "ordinal", "bandPosition": 1, "axis": null},
    "y": {"field": "r1", "type": "quantitative", "axis": null},
    "text": {"field": "label"}
   }}
 ]
}
]
}
